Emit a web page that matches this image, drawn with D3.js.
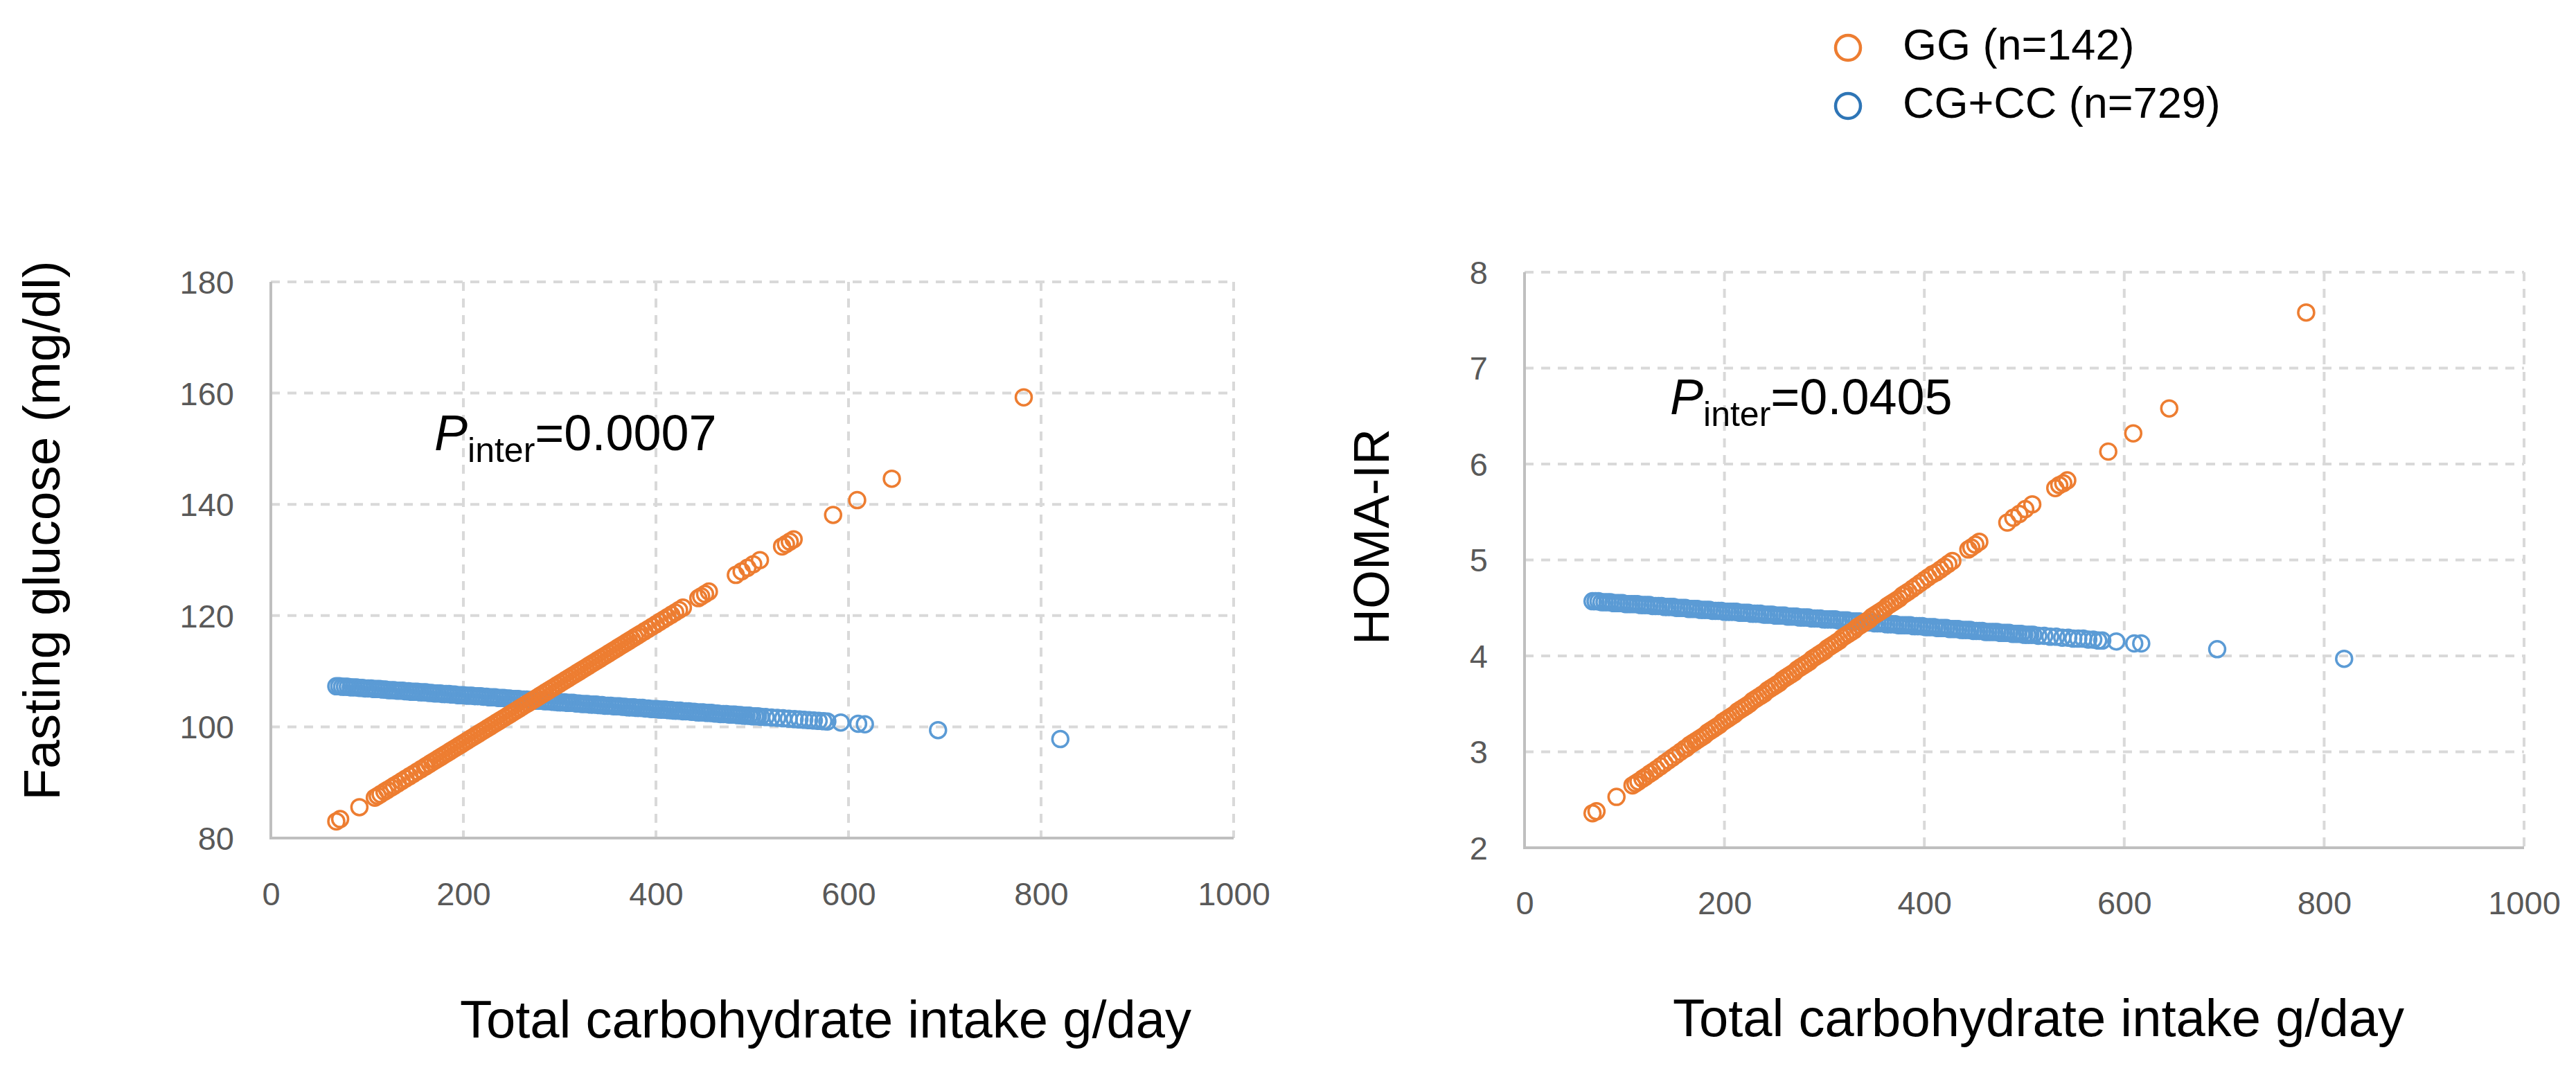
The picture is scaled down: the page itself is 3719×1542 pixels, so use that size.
<!DOCTYPE html>
<html>
  <head>
    <meta charset="utf-8">
    <title>Carbohydrate intake vs glucose / HOMA-IR</title>
    <style>
      body { margin: 0; background: #fff; }
      text { font-family: "Liberation Sans", Arial, sans-serif; }
      .tick text { fill: #595959; font-size: 47px; }
      .grid line { stroke: #D9D9D9; stroke-width: 4; stroke-dasharray: 13 11; }
      .frame { stroke: #BFBFBF; stroke-width: 4; fill: none; }
      .dot { fill: none; stroke-width: 3.5; }
    </style>
  </head>
  <body>
    <div id="chart"></div>
    <script src="https://d3js.org/d3.v7.min.js"></script>
    <script>
      // tick labels
      const xTicks = [0, 200, 400, 600, 800, 1000];
      const glucoseTicks = [80, 100, 120, 140, 160, 180];
      const homaTicks = [2, 3, 4, 5, 6, 7, 8];

      const seriesNames = ["GG (n=142)", "CG+CC (n=729)"];

      // GG group: carbohydrate intake (g/day), predicted fasting glucose, predicted HOMA-IR
      const ggCarbs = [
        68, 72, 92, 108, 111, 114, 118, 121, 125, 128, 132, 136, 140, 144, 148, 152, 156, 160, 162,
        165, 168, 171, 174, 177, 180, 183, 186, 189, 192,
        195, 198, 201, 204, 207, 210, 213, 216, 219, 222,
        225, 228, 231, 234, 237, 240, 243, 246, 249, 252,
        255, 258, 261, 264, 267, 270, 273, 276, 279, 282,
        285, 288, 291, 294, 297, 300, 303, 306, 309, 312,
        315, 318, 321, 324, 327, 330, 333, 336, 339, 342,
        345, 348, 351, 354, 357, 360, 363, 366, 369, 372,
        375, 378, 381,
        384, 388, 392, 396, 400, 404, 408, 412, 416, 420, 424, 428, 444, 447, 451, 455,
        483, 489, 495, 501, 508, 531, 535, 539, 543, 584, 609, 645, 782
      ];
      const ggGlucose = [
        82.99, 83.41, 85.55, 87.26, 87.58, 87.90, 88.33, 88.65, 89.07, 89.39, 89.82, 90.25, 90.68, 91.10, 91.53, 91.96, 92.38, 92.81, 93.02,
        93.35, 93.67, 93.99, 94.31, 94.63, 94.95, 95.27, 95.59, 95.91, 96.23,
        96.55, 96.87, 97.19, 97.52, 97.84, 98.16, 98.48, 98.80, 99.12, 99.44,
        99.76, 100.08, 100.40, 100.72, 101.04, 101.36, 101.68, 102.00, 102.32, 102.64,
        102.96, 103.28, 103.60, 103.92, 104.24, 104.56, 104.88, 105.20, 105.52, 105.85,
        106.17, 106.49, 106.81, 107.13, 107.45, 107.77, 108.09, 108.41, 108.73, 109.05,
        109.37, 109.69, 110.01, 110.33, 110.65, 110.97, 111.29, 111.61, 111.93, 112.25,
        112.57, 112.89, 113.21, 113.53, 113.85, 114.18, 114.50, 114.82, 115.14, 115.46,
        115.78, 116.10, 116.42,
        116.74, 117.16, 117.59, 118.02, 118.44, 118.87, 119.30, 119.73, 120.15, 120.58, 121.01, 121.43, 123.14, 123.46, 123.89, 124.32,
        127.31, 127.95, 128.59, 129.23, 129.98, 132.43, 132.86, 133.29, 133.72, 138.11, 140.77, 144.61, 159.24
      ];
      const ggHoma = [
        2.36, 2.38, 2.53, 2.65, 2.67, 2.69, 2.72, 2.74, 2.77, 2.79, 2.82, 2.85, 2.88, 2.91, 2.94, 2.97, 3.00, 3.03, 3.04,
        3.07, 3.09, 3.11, 3.13, 3.15, 3.17, 3.20, 3.22, 3.24, 3.26,
        3.28, 3.31, 3.33, 3.35, 3.37, 3.39, 3.42, 3.44, 3.46, 3.48,
        3.50, 3.53, 3.55, 3.57, 3.59, 3.61, 3.64, 3.66, 3.68, 3.70,
        3.72, 3.75, 3.77, 3.79, 3.81, 3.83, 3.86, 3.88, 3.90, 3.92,
        3.94, 3.97, 3.99, 4.01, 4.03, 4.05, 4.08, 4.10, 4.12, 4.14,
        4.16, 4.19, 4.21, 4.23, 4.25, 4.27, 4.30, 4.32, 4.34, 4.36,
        4.38, 4.41, 4.43, 4.45, 4.47, 4.49, 4.52, 4.54, 4.56, 4.58,
        4.60, 4.63, 4.65,
        4.67, 4.70, 4.73, 4.76, 4.79, 4.82, 4.85, 4.87, 4.90, 4.93, 4.96, 4.99, 5.11, 5.13, 5.16, 5.19,
        5.39, 5.44, 5.48, 5.53, 5.58, 5.75, 5.78, 5.80, 5.83, 6.13, 6.32, 6.58, 7.58
      ];

      // CG+CC group
      const cgCarbs = [
        68, 71,
        74, 77, 80, 83, 86, 89, 92, 95, 98, 101,
        104, 107, 110, 113, 116, 119, 122, 125, 128, 131,
        134, 137, 140, 143, 146, 149, 152, 155, 158, 161,
        164, 167, 170, 173, 176, 179, 182, 185, 188, 191,
        194, 197, 200, 203, 206, 209, 212, 215, 218, 221,
        224, 227, 230, 233, 236, 239, 242, 245, 248, 251,
        254, 257, 260, 263, 266, 269, 272, 275, 278, 281,
        284, 287, 290, 293, 296, 299, 302, 305, 308, 311,
        314, 317, 320, 323, 326, 329, 332, 335, 338, 341,
        344, 347, 350, 353, 356, 359, 362, 365, 368, 371,
        374, 377, 380, 383, 386, 389, 392, 395, 398, 401,
        404, 407, 410, 413, 416, 419, 422, 425, 428, 431,
        434, 437, 440, 443, 446, 449, 452, 455, 458, 461,
        464, 467, 470, 473, 476, 479, 482, 485, 488, 491,
        494, 497, 500, 503, 506, 509,
        514, 520, 526, 532, 538, 544, 549, 554, 559, 564, 569, 574, 578, 592, 610, 617, 693, 820
      ];
      const cgGlucose = [
        107.3, 107.3,
        107.2, 107.2, 107.2, 107.1, 107.1, 107.1, 107.0, 107.0, 106.9, 106.9,
        106.9, 106.8, 106.8, 106.8, 106.7, 106.7, 106.6, 106.6, 106.6, 106.5,
        106.5, 106.5, 106.4, 106.4, 106.3, 106.3, 106.3, 106.2, 106.2, 106.2,
        106.1, 106.1, 106.0, 106.0, 106.0, 105.9, 105.9, 105.9, 105.8, 105.8,
        105.7, 105.7, 105.7, 105.6, 105.6, 105.6, 105.5, 105.5, 105.5, 105.4,
        105.4, 105.3, 105.3, 105.3, 105.2, 105.2, 105.2, 105.1, 105.1, 105.0,
        105.0, 105.0, 104.9, 104.9, 104.9, 104.8, 104.8, 104.7, 104.7, 104.7,
        104.6, 104.6, 104.6, 104.5, 104.5, 104.4, 104.4, 104.4, 104.3, 104.3,
        104.3, 104.2, 104.2, 104.1, 104.1, 104.1, 104.0, 104.0, 104.0, 103.9,
        103.9, 103.8, 103.8, 103.8, 103.7, 103.7, 103.7, 103.6, 103.6, 103.5,
        103.5, 103.5, 103.4, 103.4, 103.4, 103.3, 103.3, 103.2, 103.2, 103.2,
        103.1, 103.1, 103.1, 103.0, 103.0, 102.9, 102.9, 102.9, 102.8, 102.8,
        102.8, 102.7, 102.7, 102.6, 102.6, 102.6, 102.5, 102.5, 102.5, 102.4,
        102.4, 102.3, 102.3, 102.3, 102.2, 102.2, 102.2, 102.1, 102.1, 102.0,
        102.0, 102.0, 101.9, 101.9, 101.9, 101.8,
        101.76, 101.68, 101.61, 101.53, 101.46, 101.38, 101.32, 101.26, 101.19, 101.13, 101.07, 101.01, 100.96, 100.78, 100.56, 100.47, 99.4, 97.8
      ];
      const cgHoma = [
        4.57, 4.57,
        4.57, 4.56, 4.56, 4.56, 4.56, 4.55, 4.55, 4.55, 4.55, 4.54,
        4.54, 4.54, 4.54, 4.54, 4.53, 4.53, 4.53, 4.53, 4.52, 4.52,
        4.52, 4.52, 4.51, 4.51, 4.51, 4.51, 4.50, 4.50, 4.50, 4.50,
        4.49, 4.49, 4.49, 4.49, 4.48, 4.48, 4.48, 4.48, 4.47, 4.47,
        4.47, 4.47, 4.46, 4.46, 4.46, 4.46, 4.46, 4.45, 4.45, 4.45,
        4.45, 4.44, 4.44, 4.44, 4.44, 4.43, 4.43, 4.43, 4.43, 4.42,
        4.42, 4.42, 4.42, 4.41, 4.41, 4.41, 4.41, 4.40, 4.40, 4.40,
        4.40, 4.39, 4.39, 4.39, 4.39, 4.38, 4.38, 4.38, 4.38, 4.38,
        4.37, 4.37, 4.37, 4.37, 4.36, 4.36, 4.36, 4.36, 4.35, 4.35,
        4.35, 4.35, 4.34, 4.34, 4.34, 4.34, 4.33, 4.33, 4.33, 4.33,
        4.32, 4.32, 4.32, 4.32, 4.32, 4.31, 4.31, 4.31, 4.31, 4.30,
        4.30, 4.30, 4.30, 4.29, 4.29, 4.29, 4.29, 4.28, 4.28, 4.28,
        4.28, 4.27, 4.27, 4.27, 4.27, 4.26, 4.26, 4.26, 4.26, 4.25,
        4.25, 4.25, 4.25, 4.25, 4.24, 4.24, 4.24, 4.24, 4.23, 4.23,
        4.23, 4.23, 4.22, 4.22, 4.22, 4.22,
        4.21, 4.21, 4.20, 4.20, 4.19, 4.19, 4.18, 4.18, 4.18, 4.17, 4.17, 4.16, 4.16, 4.15, 4.13, 4.13, 4.07, 3.97
      ];

      const orange = "#ED7D31";
      const blue = "#5B9BD5";

      const W = 3719, H = 1542;
      const svg = d3.select("#chart").append("svg")
        .attr("width", W)
        .attr("height", H);
      svg.append("rect").attr("width", W).attr("height", H).attr("fill", "#fff");

      const panels = [
        {
          box: { x0: 391, x1: 1781, y0: 407, y1: 1210 },
          yDomain: [80, 180], yTicks: glucoseTicks,
          gg: ggGlucose, cg: cgGlucose,
          yTitle: "Fasting glucose (mg/dl)", yTitleX: 86, yTitleY: 766, yTitleSize: 75,
          pValue: "0.0007", pX: 627, pY: 650,
          xLabelY: 97, xTitleX: 1192, xTitleY: 1498
        },
        {
          box: { x0: 2201, x1: 3644, y0: 393, y1: 1224 },
          yDomain: [2, 8], yTicks: homaTicks,
          gg: ggHoma, cg: cgHoma,
          yTitle: "HOMA-IR", yTitleX: 2005, yTitleY: 775, yTitleSize: 72,
          pValue: "0.0405", pX: 2411, pY: 598,
          xLabelY: 96, xTitleX: 2943, xTitleY: 1496
        }
      ];

      panels.forEach(p => {
        const x = d3.scaleLinear().domain([0, 1000]).range([p.box.x0, p.box.x1]);
        const y = d3.scaleLinear().domain(p.yDomain).range([p.box.y1, p.box.y0]);
        const g = svg.append("g");

        // dashed grid
        const grid = g.append("g").attr("class", "grid");
        grid.selectAll(".hg")
          .data(p.yTicks.slice(1))
          .enter().append("line")
          .attr("x1", p.box.x0).attr("x2", p.box.x1)
          .attr("y1", d => y(d)).attr("y2", d => y(d));
        grid.selectAll(".vg")
          .data(xTicks.slice(1))
          .enter().append("line")
          .attr("x1", d => x(d)).attr("x2", d => x(d))
          .attr("y1", p.box.y0).attr("y2", p.box.y1);

        // axis lines (left + bottom)
        g.append("path")
          .attr("class", "frame")
          .attr("d", `M${p.box.x0},${p.box.y0}V${p.box.y1}H${p.box.x1}`);

        // tick labels
        const xAxis = g.append("g")
          .attr("transform", `translate(0,${p.box.y1})`)
          .call(d3.axisBottom(x).tickValues(xTicks).tickSize(0).tickFormat(d3.format("d")));
        xAxis.select(".domain").remove();
        xAxis.selectAll("text").attr("y", p.xLabelY).attr("dy", null);

        const yAxis = g.append("g")
          .attr("transform", `translate(${p.box.x0},0)`)
          .call(d3.axisLeft(y).tickValues(p.yTicks).tickSize(0).tickPadding(53).tickFormat(d3.format("d")));
        yAxis.select(".domain").remove();
        yAxis.selectAll("text").attr("dy", "0.35em");

        // points: CG+CC first, GG on top
        g.append("g").selectAll("circle")
          .data(cgCarbs.map((c, i) => [c, p.cg[i]]))
          .enter().append("circle")
          .attr("class", "dot")
          .attr("stroke", blue)
          .attr("cx", d => x(d[0]))
          .attr("cy", d => y(d[1]))
          .attr("r", 11.5);

        g.append("g").selectAll("circle")
          .data(ggCarbs.map((c, i) => [c, p.gg[i]]))
          .enter().append("circle")
          .attr("class", "dot")
          .attr("stroke", orange)
          .attr("cx", d => x(d[0]))
          .attr("cy", d => y(d[1]))
          .attr("r", 11.5);

        // P interaction annotation
        const pt = g.append("text")
          .attr("x", p.pX).attr("y", p.pY)
          .attr("font-size", 72).attr("fill", "#000");
        pt.append("tspan").attr("font-style", "italic").text("P");
        pt.append("tspan").attr("font-size", 50).attr("dy", 17).text("inter");
        pt.append("tspan").attr("dy", -17).text("=" + p.pValue);

        // axis titles
        g.append("text")
          .attr("transform", `translate(${p.yTitleX},${p.yTitleY}) rotate(-90)`)
          .attr("text-anchor", "middle")
          .attr("font-size", p.yTitleSize)
          .attr("fill", "#000")
          .text(p.yTitle);

        g.append("text")
          .attr("x", p.xTitleX).attr("y", p.xTitleY)
          .attr("text-anchor", "middle")
          .attr("font-size", 76)
          .attr("fill", "#000")
          .text("Total carbohydrate intake g/day");
      });

      // legend
      const legendColors = [orange, "#2E75B6"];
      const legend = svg.append("g");
      seriesNames.forEach((name, i) => {
        const cy = 69 + i * 84;
        legend.append("circle")
          .attr("cx", 2668).attr("cy", cy).attr("r", 18)
          .attr("fill", "none")
          .attr("stroke", legendColors[i])
          .attr("stroke-width", 4.5);
        legend.append("text")
          .attr("x", 2747).attr("y", cy + 17)
          .attr("font-size", 63)
          .attr("fill", "#000")
          .text(name);
      });
    </script>
  </body>
</html>
